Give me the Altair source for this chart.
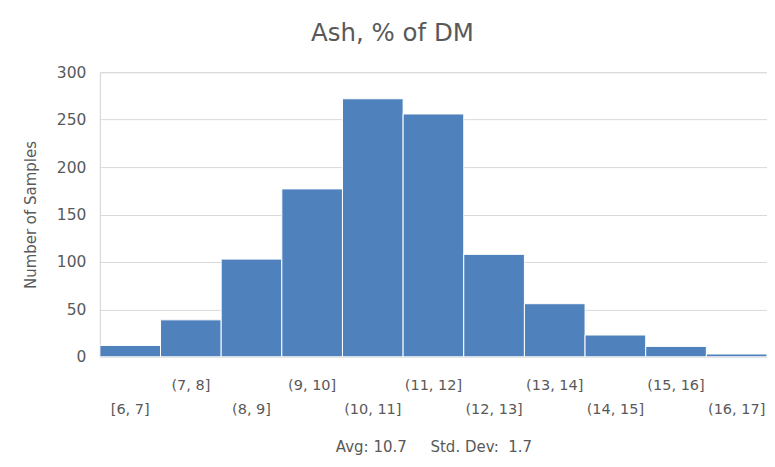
import altair as alt
import pandas as pd

bins = ["[6, 7]", "(7, 8]", "(8, 9]", "(9, 10]", "(10, 11]", "(11, 12]",
        "(12, 13]", "(13, 14]", "(14, 15]", "(15, 16]", "(16, 17]"]
counts = [12, 39, 103, 177, 272, 256, 108, 56, 23, 11, 3]
y_ticks = [0, 50, 100, 150, 200, 250, 300]
title_text = "Ash, % of DM"
y_title = "Number of Samples"
footer = "Avg:\u00a010.7\u00a0\u00a0\u00a0\u00a0\u00a0Std.\u00a0Dev:\u00a0\u00a01.7"

df = pd.DataFrame({"bin": bins, "count": counts, "idx": list(range(len(bins)))})

FONT = "DejaVu Sans"
GRAY = "#595959"
W, H = 668, 285

x_enc = alt.X("bin:N", sort=bins,
              scale=alt.Scale(paddingInner=0, paddingOuter=0),
              axis=alt.Axis(labels=False, ticks=False, domain=True, domainColor="#D9D9D9",
                            title=footer, titlePadding=83, titleFont=FONT,
                            titleFontSize=15, titleFontWeight="normal", titleColor=GRAY))

bars = alt.Chart(df).mark_bar(color="#4F81BD", stroke="white", strokeWidth=1).encode(
    x=x_enc,
    y=alt.Y("count:Q", scale=alt.Scale(domain=[0, 300], nice=False),
            axis=alt.Axis(values=y_ticks, title=y_title, grid=True, gridColor="#D9D9D9",
                          domain=True, domainColor="#D9D9D9", ticks=False,
                          labelPadding=14, labelFont=FONT, labelFontSize=15.5,
                          labelColor=GRAY, titleFont=FONT, titleFontSize=15,
                          titleFontWeight="normal", titleColor=GRAY, titlePadding=18)),
)

row1 = alt.Chart(df).transform_filter("datum.idx % 2 == 1").mark_text(
    font=FONT, fontSize=14.5, color=GRAY, baseline="alphabetic", align="center"
).encode(x=alt.X("bin:N", sort=bins), y=alt.value(H + 33), text="bin:N")

row2 = alt.Chart(df).transform_filter("datum.idx % 2 == 0").mark_text(
    font=FONT, fontSize=14.5, color=GRAY, baseline="alphabetic", align="center"
).encode(x=alt.X("bin:N", sort=bins), y=alt.value(H + 57), text="bin:N")

chart = alt.layer(bars, row1, row2).properties(
    width=W, height=H,
    title=alt.TitleParams(title_text, font=FONT, fontSize=24.5, fontWeight="normal",
                          color=GRAY, anchor="middle", offset=19, dx=-41),
    autosize=alt.AutoSizeParams(type="none"),
    padding={"left": 92, "top": 64, "right": 0, "bottom": 98},
).configure_view(stroke=None).configure(background="white")

chart.save("out.html", embed_options={"renderer": "svg", "actions": False})
